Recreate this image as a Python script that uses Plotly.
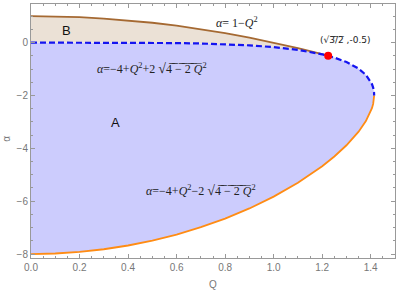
import plotly.graph_objects as go

# Upper branch: alpha = -4 + Q^2 + 2*sqrt(4 - 2 Q^2)
q_branch = [0.0, 0.1, 0.2, 0.3, 0.4, 0.5, 0.6, 0.7, 0.8, 0.9, 1.0, 1.1, 1.2, 1.2247,
            1.25, 1.3, 1.35, 1.38, 1.40, 1.405, 1.41, 1.412, 1.4135, 1.41421]
alpha_upper = [0.0, -0.00003, -0.0002, -0.00104, -0.00334, -0.00834, -0.01785, -0.03437,
               -0.06152, -0.10455, -0.17157, -0.27604, -0.44340, -0.5,
               -0.56717, -0.73520, -0.98586, -1.22107, -1.47432, -1.57013, -1.70336,
               -1.78254, -1.87497, -2.0]
# Lower branch: alpha = -4 + Q^2 - 2*sqrt(4 - 2 Q^2)
alpha_lower = [-8.0, -7.97997, -7.91980, -7.81896, -7.67667, -7.49166, -7.26215, -6.98563,
               -6.65849, -6.27545, -5.82843, -5.30396, -4.67660, -4.5,
               -4.30833, -3.88480, -3.36914, -2.97013, -2.60569, -2.48183, -2.32045,
               -2.22997, -2.12907, -2.0]
# Upper boundary of region B: alpha = 1 - Q^2
q_top = [0.0, 0.1, 0.2, 0.3, 0.4, 0.5, 0.6, 0.7, 0.8, 0.9, 1.0, 1.1, 1.2, 1.2247]
alpha_top = [1.0, 0.99, 0.96, 0.91, 0.84, 0.75, 0.64, 0.51, 0.36, 0.19, 0.0, -0.21, -0.44, -0.5]
alpha_upper_B = [0.0, -0.00003, -0.0002, -0.00104, -0.00334, -0.00834, -0.01785, -0.03437,
                 -0.06152, -0.10455, -0.17157, -0.27604, -0.44340, -0.5]
# Special point
point_q = [1.2247]
point_alpha = [-0.5]

fig = go.Figure()

fig.add_trace(go.Scatter(
    x=q_branch + q_branch[::-1], y=alpha_upper + alpha_lower[::-1],
    fill="toself", fillcolor="rgb(204,204,253)", line=dict(width=0),
    mode="lines", hoverinfo="skip", showlegend=False))
fig.add_trace(go.Scatter(
    x=q_top + q_top[::-1], y=alpha_top + alpha_upper_B[::-1],
    fill="toself", fillcolor="rgb(235,225,214)", line=dict(width=0),
    mode="lines", hoverinfo="skip", showlegend=False))
fig.add_trace(go.Scatter(x=q_top, y=alpha_top, mode="lines",
                         line=dict(color="rgb(165,105,50)", width=1.8), showlegend=False))
fig.add_trace(go.Scatter(x=q_branch, y=alpha_lower, mode="lines",
                         line=dict(color="rgb(255,140,20)", width=1.8), showlegend=False))
fig.add_trace(go.Scatter(x=q_branch, y=alpha_upper, mode="lines",
                         line=dict(color="rgb(20,20,240)", width=2.2, dash="6px,3px"),
                         showlegend=False))
fig.add_trace(go.Scatter(x=point_q, y=point_alpha, mode="markers",
                         marker=dict(color="rgb(255,0,0)", size=8), showlegend=False))


def over(s):
    return "".join(ch + "\u0305" for ch in s)


radicand = over("4 − 2 ") + "<i>" + over("Q") + "</i><sup>2</sup>"
serif = dict(family="Liberation Serif", size=12, color="#222")
annos = [
    dict(x=0.85, y=0.75, text="<i>α</i>= 1−<i>Q</i><sup>2</sup>", font=serif),
    dict(x=1.295, y=0.1, text="(√" + over("3/2") + " ,-0.5)",
         font=dict(family="DejaVu Sans", size=9, color="#222")),
    dict(x=0.50, y=-0.98, text="<i>α</i>=−4+<i>Q</i><sup>2</sup>+2 <span style='font-size:14px'>√</span>" + radicand, font=serif),
    dict(x=0.70, y=-5.58, text="<i>α</i>=−4+<i>Q</i><sup>2</sup>−2 <span style='font-size:14px'>√</span>" + radicand, font=serif),
    dict(x=0.148, y=0.44, text="B", font=dict(family="Liberation Sans", size=13, color="#111")),
    dict(x=0.35, y=-3.04, text="A", font=dict(family="Liberation Sans", size=13, color="#111")),
]
for a in annos:
    fig.add_annotation(showarrow=False, xref="x", yref="y", **a)

fig.add_annotation(text="Q", xref="paper", yref="paper", x=0.5, y=-0.105, yanchor="middle",
                   showarrow=False, font=dict(family="Liberation Sans", size=10, color="#777"))
fig.add_annotation(text="α", xref="paper", yref="paper", x=-0.068, y=0.47, xanchor="center",
                   textangle=-90, showarrow=False,
                   font=dict(family="Liberation Sans", size=10, color="#777"))

axis_common = dict(
    showgrid=False, zeroline=False, showline=True, linecolor="#999", linewidth=1,
    mirror="ticks", ticks="inside", ticklen=4, tickcolor="#999", tickwidth=1,
    tickfont=dict(family="Liberation Sans", size=10, color="#777"), automargin=False,
)
fig.update_xaxes(range=[0, 1.5], dtick=0.2, tick0=0, tickformat=".1f",
                 minor=dict(dtick=0.05, ticks="inside", ticklen=2, tickcolor="#999"),
                 **axis_common)
fig.update_yaxes(range=[-8.15, 1.46], dtick=2, tick0=0,
                 minor=dict(dtick=0.5, ticks="inside", ticklen=2, tickcolor="#999"),
                 **axis_common)
fig.update_layout(width=401, height=291, margin=dict(l=31, r=6, t=4, b=33),
                  plot_bgcolor="white", paper_bgcolor="white")
fig.write_html("out.html", config={"displayModeBar": False},
               post_script="document.body.style.margin='0';")
